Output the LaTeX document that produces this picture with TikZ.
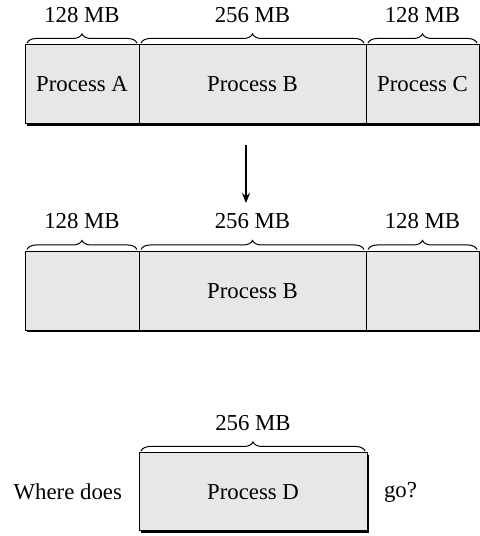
\documentclass[tikz,border=0pt]{standalone}
\usepackage{fontspec}
\setmainfont{Liberation Serif}
\usetikzlibrary{positioning,decorations.pathreplacing,shadows,arrows.meta}
\definecolor{memgray}{RGB}{230,231,232}

\begin{document}
\begin{tikzpicture}[x=0.5pt,y=0.5pt,>={Stealth[length=5pt,width=4pt]},
    font=\fontsize{11.4}{13}\selectfont,
    block/.style={draw,fill=memgray,line width=0.5pt,inner sep=0pt,outer sep=0pt,minimum height=39.5pt,
        drop shadow={shadow xshift=0.8pt,shadow yshift=-0.8pt,fill=black,opacity=1}},
    memsize/.style={decorate,decoration={brace,amplitude=4.5pt},line width=0.5pt}]
    \useasboundingbox (0,0) rectangle (479,536);

    % memory before
    \node[block,minimum width=57pt] (a1) at (82,451.5) {Process A};
    \node[block,minimum width=113.5pt,right=0pt of a1] (b1) {Process B};
    \node[block,minimum width=56.5pt,right=0pt of b1] (c1) {Process C};
    \draw[memsize] ([xshift=1pt,yshift=1pt]a1.north west) -- ([xshift=-1pt,yshift=1pt]a1.north east)
        node[midway,yshift=14pt] {128 MB};
    \draw[memsize] ([xshift=1pt,yshift=1pt]b1.north west) -- ([xshift=-1pt,yshift=1pt]b1.north east)
        node[midway,yshift=14pt] {256 MB};
    \draw[memsize] ([xshift=1pt,yshift=1pt]c1.north west) -- ([xshift=-1pt,yshift=1pt]c1.north east)
        node[midway,yshift=14pt] {128 MB};

    % A and C swapped out
    \coordinate (from) at (246,391);
    \coordinate (to) at (246,333);
    \draw[->,line width=0.6pt] (from) -- (to);

    % memory after
    \node[block,minimum width=57pt] (a2) at (82,245) {};
    \node[block,minimum width=113.5pt,right=0pt of a2] (b2) {Process B};
    \node[block,minimum width=56.5pt,right=0pt of b2] (c2) {};
    \draw[memsize] ([xshift=1pt,yshift=1pt]a2.north west) -- ([xshift=-1pt,yshift=1pt]a2.north east)
        node[midway,yshift=14pt] {128 MB};
    \draw[memsize] ([xshift=1pt,yshift=1pt]b2.north west) -- ([xshift=-1pt,yshift=1pt]b2.north east)
        node[midway,yshift=14pt] {256 MB};
    \draw[memsize] ([xshift=1pt,yshift=1pt]c2.north west) -- ([xshift=-1pt,yshift=1pt]c2.north east)
        node[midway,yshift=14pt] {128 MB};

    % new process
    \node[block,minimum width=114pt,minimum height=39pt] (d) at (253,44) {Process D};
    \draw[memsize] ([xshift=1pt,yshift=1pt]d.north west) -- ([xshift=-1pt,yshift=1pt]d.north east)
        node[midway,yshift=14pt] {256 MB};
    \node[left=5pt of d] (where) {Where does};
    \node[right=5pt of d] (go) {go?};
\end{tikzpicture}
\end{document}
